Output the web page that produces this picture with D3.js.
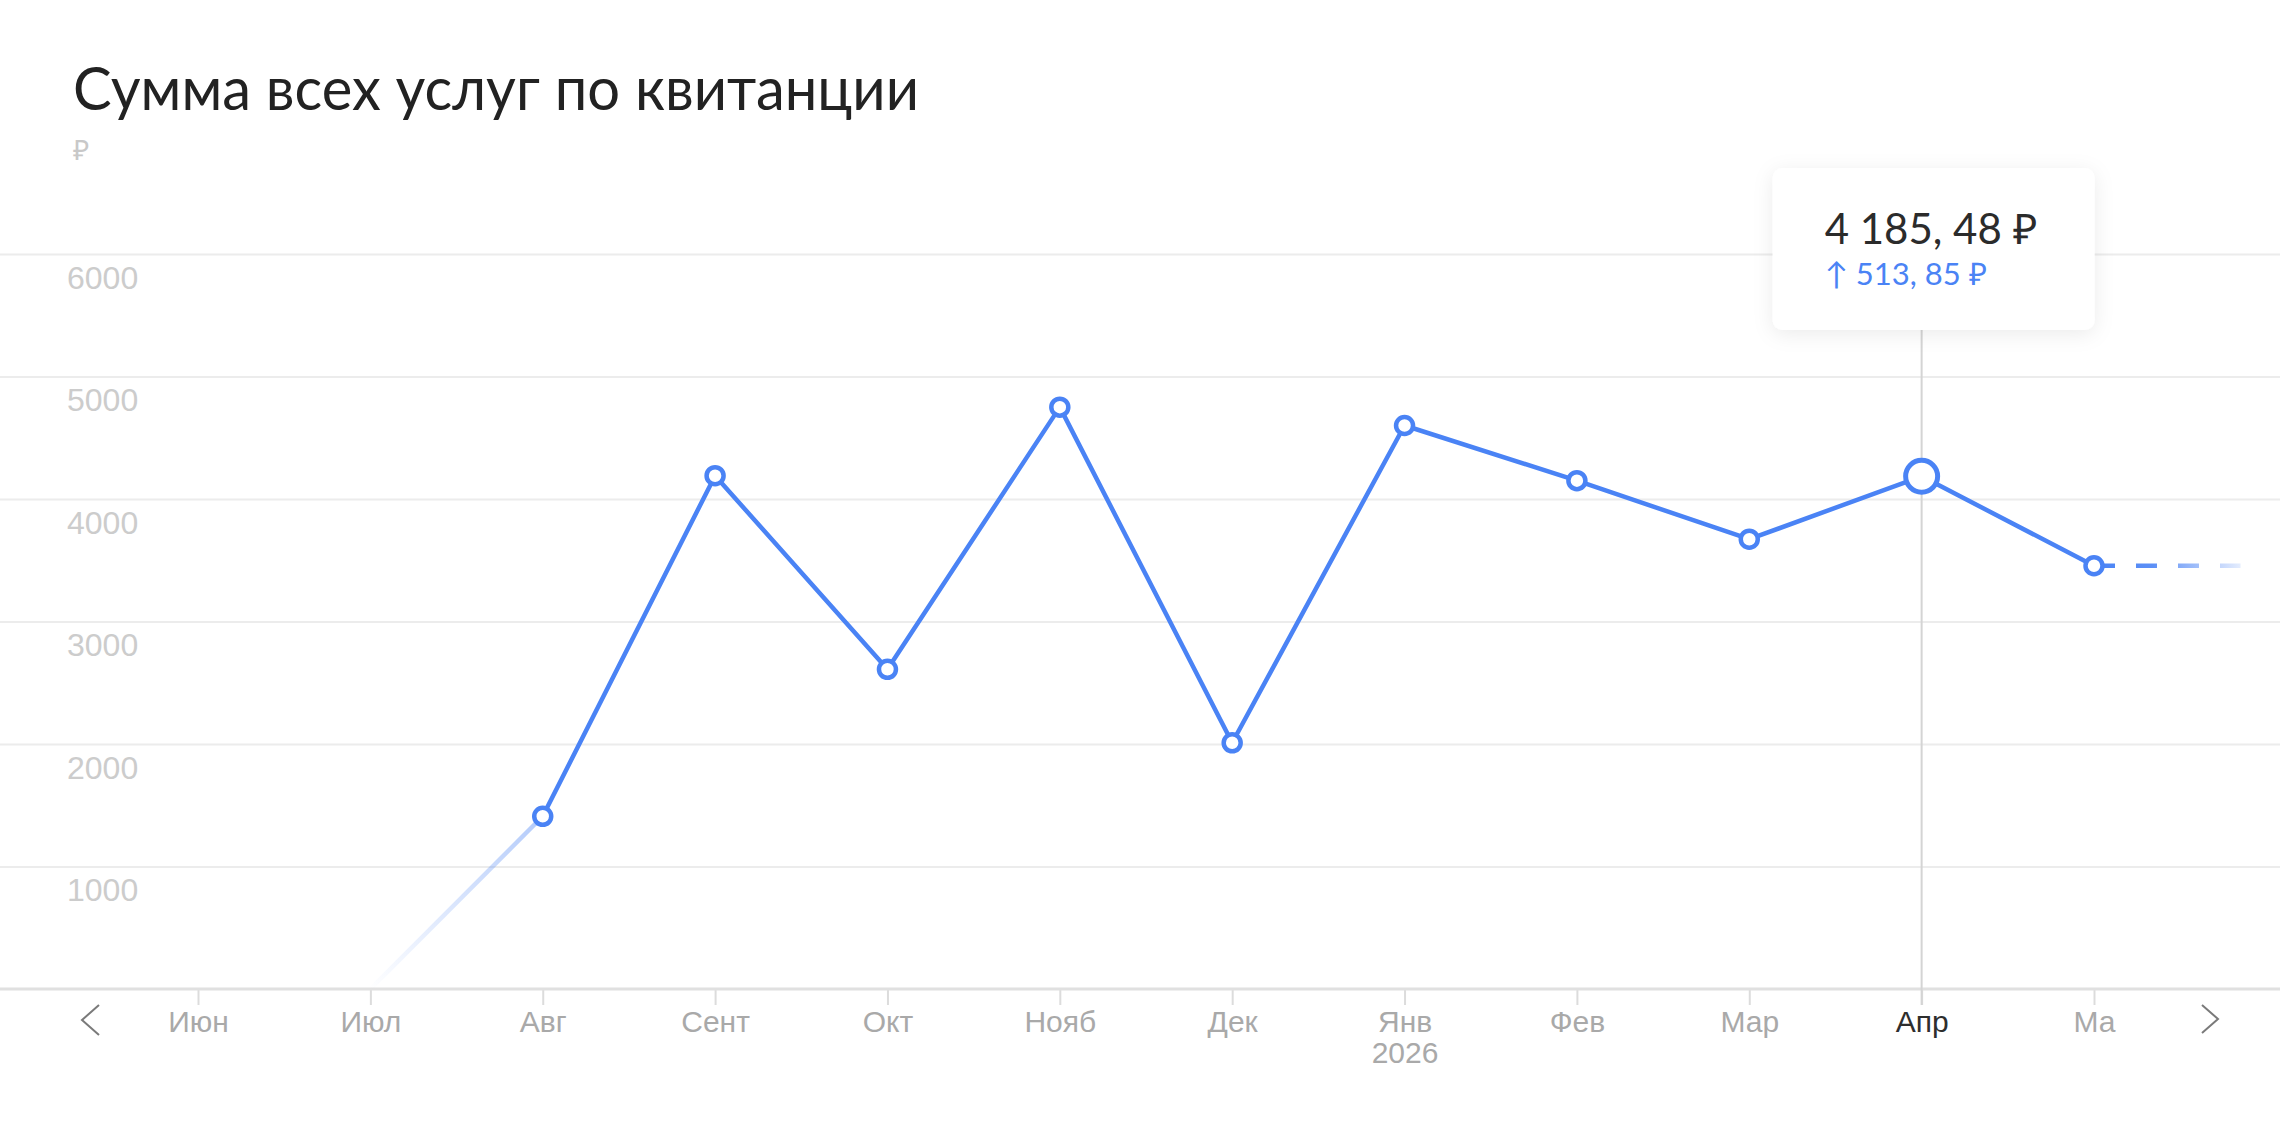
<!DOCTYPE html>
<html>
<head>
<meta charset="utf-8" />
<title>Сумма всех услуг по квитанции</title>
<style>
    body { margin: 0; background: #fff; }
    svg { display: block; font-family: Lato, "Open Sans", sans-serif; }
    .grid line { stroke: #ececec; stroke-width: 2; }
    .grid text { fill: #cccccc; font-size: 32px; }
    .xaxis line { stroke: #dcdcdc; stroke-width: 2; }
    .xaxis text { fill: #a9a9a9; font-size: 30px; }
    .xaxis text.active { fill: #2e2e2e; }
</style>
<script src="https://d3js.org/d3.v7.min.js"></script>
</head>
<body>
<script>

// data
const months = ["Июн", "Июл", "Авг", "Сент", "Окт", "Нояб", "Дек", "Янв", "Фев", "Мар", "Апр", "Ма"];
const values = [null, 0, 1410, 4190, 2610, 4750, 2010, 4600, 4150, 3671.63, 4185.48, 3455];
const yTicks = [1000, 2000, 3000, 4000, 5000, 6000];
const activeMonth = "Апр";
const yearLabels = { "Янв": "2026" };
const title = "Сумма всех услуг по квитанции";
const unit = "₽";

const W = 2280, H = 1125;
const blue = "#4a83f5";

const svg = d3.select("body").append("svg")
    .attr("width", W)
    .attr("height", H);

const x = d3.scalePoint()
    .domain(months)
    .range([198, 2094]);

const y = d3.scaleLinear()
    .domain([0, 6000])
    .range([989, 254]);

// gradients + shadow
const defs = svg.append("defs");

let shadow = defs.append("filter").attr("id", "shadow")
    .attr("x", "-20%").attr("y", "-20%").attr("width", "140%").attr("height", "150%");
shadow.append("feDropShadow")
    .attr("dx", 0).attr("dy", 4)
    .attr("stdDeviation", 10)
    .attr("flood-color", "#000")
    .attr("flood-opacity", 0.08);

// title
svg.append("text")
    .attr("x", 73)
    .attr("y", 110)
    .attr("font-size", 60)
    .attr("fill", "#222")
    .attr("textLength", 846)
    .attr("lengthAdjust", "spacingAndGlyphs")
    .text(title);

svg.append("text")
    .attr("x", 73)
    .attr("y", 160)
    .attr("font-size", 28)
    .attr("fill", "#c8c8c8")
    .text(unit);

// grid lines with labels
let grid = svg.append("g")
    .attr("class", "grid")
    .call(d3.axisRight(y).tickValues(yTicks).tickSize(W).tickFormat(d3.format("d")));
grid.select(".domain").remove();
grid.selectAll("text")
    .attr("x", 67)
    .attr("dy", 0)
    .attr("y", 34);

// x axis
let xAxis = svg.append("g")
    .attr("class", "xaxis")
    .attr("transform", "translate(0," + y(0) + ")")
    .call(d3.axisBottom(x).tickSize(16).tickSizeOuter(0));
xAxis.select(".domain").remove();
xAxis.selectAll("text")
    .attr("y", 43)
    .attr("dy", 0)
    .classed("active", d => d === activeMonth);
xAxis.selectAll(".tick")
    .filter(d => yearLabels[d])
    .append("text")
    .attr("y", 74)
    .attr("fill", "#a9a9a9")
    .text(d => yearLabels[d]);

svg.append("line")
    .attr("x1", 0).attr("x2", W)
    .attr("y1", y(0)).attr("y2", y(0))
    .attr("stroke", "#e0e0e0")
    .attr("stroke-width", 3);

// nav arrows
svg.append("path")
    .attr("d", "M99,1005 L82,1020 L99,1035")
    .attr("fill", "none").attr("stroke", "#7a7a7a").attr("stroke-width", 2);
svg.append("path")
    .attr("d", "M2202,1005 L2218,1019 L2202,1033")
    .attr("fill", "none").attr("stroke", "#7a7a7a").attr("stroke-width", 2);

// data rows
let data = months.map((m, i) => ({ m: m, v: values[i] })).filter(d => d.v !== null);
let first = data[0], second = data[1];
let solid = data.slice(1);
let last = data[data.length - 1];
let active = data.find(d => d.m === activeMonth);
let prev = data[data.indexOf(active) - 1];

// vertical marker line
svg.append("line")
    .attr("x1", x(activeMonth)).attr("x2", x(activeMonth))
    .attr("y1", 330).attr("y2", y(0) + 16)
    .attr("stroke", "#d4d4d4")
    .attr("stroke-width", 2);

// faded start segment
let gIn = defs.append("linearGradient").attr("id", "fadeIn")
    .attr("gradientUnits", "userSpaceOnUse")
    .attr("x1", x(first.m)).attr("y1", y(first.v))
    .attr("x2", x(second.m)).attr("y2", y(second.v));
gIn.append("stop").attr("offset", 0).attr("stop-color", blue).attr("stop-opacity", 0);
gIn.append("stop").attr("offset", 1).attr("stop-color", blue).attr("stop-opacity", 0.42);

svg.append("line")
    .attr("x1", x(first.m)).attr("y1", y(first.v))
    .attr("x2", x(second.m)).attr("y2", y(second.v))
    .attr("stroke", "url(#fadeIn)")
    .attr("stroke-width", 4.5);

// dashed tail
let tailEnd = x(last.m) + x.step() * 0.85;
let gOut = defs.append("linearGradient").attr("id", "fadeOut")
    .attr("gradientUnits", "userSpaceOnUse")
    .attr("x1", x(last.m)).attr("y1", 0)
    .attr("x2", tailEnd).attr("y2", 0);
gOut.append("stop").attr("offset", 0).attr("stop-color", blue).attr("stop-opacity", 1);
gOut.append("stop").attr("offset", 0.4).attr("stop-color", blue).attr("stop-opacity", 0.9);
gOut.append("stop").attr("offset", 1).attr("stop-color", blue).attr("stop-opacity", 0.15);

svg.append("line")
    .attr("x1", x(last.m)).attr("y1", y(last.v))
    .attr("x2", tailEnd).attr("y2", y(last.v) + 0.01)
    .attr("stroke", "url(#fadeOut)")
    .attr("stroke-width", 4.5)
    .attr("stroke-dasharray", "21 21");

// main line
let line = d3.line()
    .x(d => x(d.m))
    .y(d => y(d.v));

svg.append("path")
    .datum(solid)
    .attr("d", line)
    .attr("fill", "none")
    .attr("stroke", blue)
    .attr("stroke-width", 4.5)
    .attr("stroke-linejoin", "round");

// points
svg.selectAll("circle.pt")
    .data(solid)
    .enter()
    .append("circle")
    .attr("class", "pt")
    .attr("cx", d => x(d.m))
    .attr("cy", d => y(d.v))
    .attr("r", d => d.m === activeMonth ? 16 : 8.5)
    .attr("fill", "#fff")
    .attr("stroke", blue)
    .attr("stroke-width", d => d.m === activeMonth ? 5 : 4.5);

// tooltip
let fmt = v => {
    let parts = v.toFixed(2).split(".");
    let int = parts[0].replace(/\B(?=(\d{3})+(?!\d))/g, " ");
    return int + ", " + parts[1] + " ₽";
};
let diff = active.v - prev.v;

let tip = svg.append("g")
    .attr("transform", "translate(" + (x(activeMonth) - 149) + ",168)");
tip.append("rect")
    .attr("width", 322)
    .attr("height", 162)
    .attr("rx", 10)
    .attr("fill", "#fff")
    .attr("filter", "url(#shadow)");
tip.append("text")
    .attr("x", 52).attr("y", 76)
    .attr("font-size", 42)
    .attr("fill", "#2b2b2b")
    .text(fmt(active.v));
tip.append("text")
    .attr("x", 52).attr("y", 117)
    .attr("font-size", 31)
    .attr("fill", blue)
    .text((diff >= 0 ? "↑ " : "↓ ") + fmt(Math.abs(diff)));

</script>
</body>
</html>
